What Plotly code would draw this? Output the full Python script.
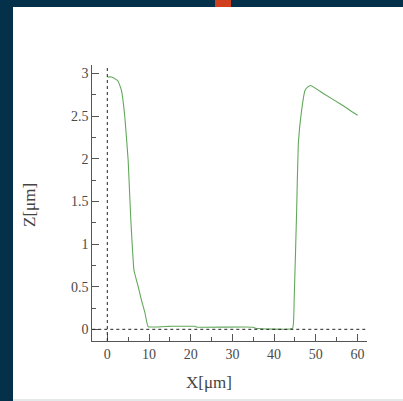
import plotly.graph_objects as go

# Profile data
x_um = [0, 1, 1.8, 2.6, 3.4, 4.2, 5.0, 5.6, 6.4, 7.3, 8.2, 9.0, 9.8, 15, 21, 21.5, 35, 35.5,
        44.4, 44.8, 45.4, 45.8, 46.6, 47.4, 48.0, 48.8, 52, 56, 60]
z_um = [2.96, 2.96, 2.94, 2.91, 2.80, 2.49, 1.98, 1.32, 0.69, 0.52, 0.34, 0.20, 0.03, 0.035, 0.035,
        0.025, 0.025, 0.012, 0.01, 0.34, 1.39, 2.18, 2.57, 2.80, 2.84, 2.86, 2.76, 2.64, 2.51]

x_ticks = [0, 10, 20, 30, 40, 50, 60]
y_ticks = [0, 0.5, 1, 1.5, 2, 2.5, 3]
y_ticklabels = ["0", "0.5", "1", "1.5", "2", "2.5", "3"]
x_title = "X[μm]"
y_title = "Z[μm]"

W, H = 403, 401
serif = "Liberation Serif, Times New Roman, serif"
axis_col = "#555555"

fig = go.Figure()
fig.add_trace(go.Scatter(x=x_um, y=z_um, mode="lines", line_shape="spline",
                         line=dict(color="#62a85a", width=1.1, smoothing=0.3), hoverinfo="skip"))

x0_px, x1_px = 92.3, 366.7
ytop_px, ybot_px = 65, 341

fig.update_layout(
    width=W, height=H,
    margin=dict(l=0, r=0, t=0, b=0),
    paper_bgcolor="#05304a",
    plot_bgcolor="rgba(0,0,0,0)",
    showlegend=False,
    xaxis=dict(
        domain=[x0_px / W, x1_px / W],
        range=[-3.6, 62.2],
        tickvals=x_ticks, ticktext=[str(v) for v in x_ticks],
        ticks="inside", ticklen=7, tickcolor=axis_col, tickwidth=1,
        minor=dict(ticks="inside", ticklen=4, dtick=5, tick0=5, tickcolor=axis_col),
        showline=True, linecolor=axis_col, linewidth=1.2, mirror=False,
        showgrid=False, zeroline=False,
        tickfont=dict(family=serif, size=14, color="#4a4a4a"),
    ),
    yaxis=dict(
        domain=[1 - ybot_px / H, 1 - ytop_px / H],
        range=[-0.137, 3.10],
        tickvals=y_ticks, ticktext=y_ticklabels,
        ticks="inside", ticklen=7, tickcolor=axis_col, tickwidth=1,
        minor=dict(ticks="inside", ticklen=4, dtick=0.25, tick0=0.25, tickcolor=axis_col),
        showline=True, linecolor=axis_col, linewidth=1.2, mirror=False,
        showgrid=False, zeroline=False,
        tickfont=dict(family=serif, size=14, color="#4a4a4a"),
    ),
    annotations=[
        dict(text=x_title, xref="paper", yref="paper", x=209 / W, y=1 - 382 / H,
             showarrow=False, xanchor="center", yanchor="middle",
             font=dict(family=serif, size=17, color="#444444")),
        dict(text=y_title, xref="paper", yref="paper", x=29 / W, y=1 - 205 / H,
             showarrow=False, xanchor="center", yanchor="middle", textangle=-90,
             font=dict(family=serif, size=17, color="#444444")),
    ],
)

shapes = [
    # white panel
    dict(type="rect", xref="paper", yref="paper", x0=13 / W, x1=1.0, y0=2 / H, y1=1 - 7 / H,
         fillcolor="#ffffff", line=dict(width=0), layer="below"),
    dict(type="rect", xref="paper", yref="paper", x0=13 / W, x1=1.0, y0=0, y1=2 / H,
         fillcolor="#e6e9ea", line=dict(width=0), layer="below"),
    # orange tab
    dict(type="rect", xref="paper", yref="paper", x0=215 / W, x1=231 / W, y0=1 - 7 / H, y1=1.0,
         fillcolor="#d0401f", line=dict(width=0), layer="below"),
    # dotted reference lines at zero
    dict(type="line", xref="x", yref="y domain", x0=0, x1=0, y0=0, y1=1,
         line=dict(color="#222222", width=1, dash="dot")),
    dict(type="line", xref="x domain", yref="y", x0=0, x1=1, y0=0, y1=0,
         line=dict(color="#222222", width=1, dash="dot")),
]
fig.update_layout(shapes=shapes)

fig.write_html("out.html")
